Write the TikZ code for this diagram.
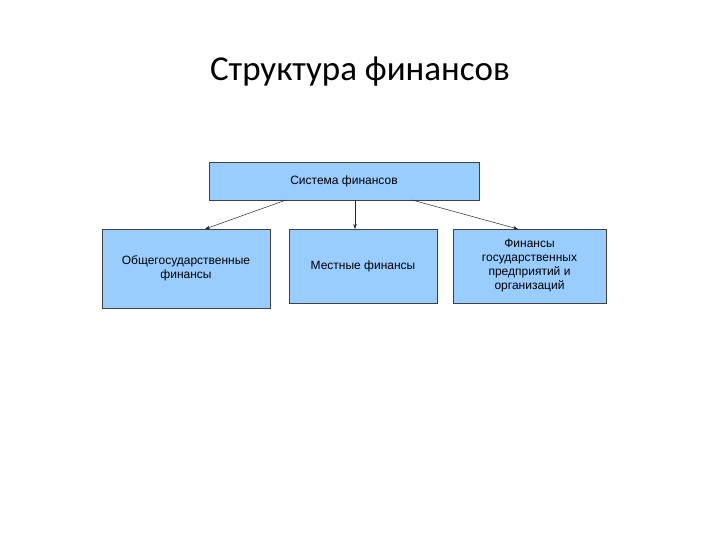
\documentclass[tikz,border=0pt]{standalone}
\usepackage{fontspec}
\usetikzlibrary{arrows.meta}
\setmainfont{Liberation Sans}
\newfontfamily\titlefont{Carlito}
\definecolor{boxblue}{HTML}{99CCFF}
\begin{document}
\begin{tikzpicture}[x=1pt,y=-1pt,
  fbox/.style={draw=black!75,line width=0.6pt,fill=boxblue,inner sep=0pt,align=center,font=\fontsize{12}{14}\selectfont},
  conn/.style={-{Stealth[length=5pt,width=3.5pt]},line width=0.5pt,black!85}]
\useasboundingbox (0,0) rectangle (720,540);
\fill[white] (0,0) rectangle (720,540);
\node[font=\titlefont\fontsize{35}{40}\selectfont] (title) at (360,72) {Структура финансов};
\node[fbox,minimum width=270pt,minimum height=38pt] (top) at (344,181) {Система финансов};
\node[fbox,minimum width=168pt,minimum height=79pt] (l) at (186,268.5) {Общегосударственные\\финансы};
\node[fbox,minimum width=148pt,minimum height=74pt] (m) at (363,266) {Местные финансы};
\node[fbox,minimum width=153pt,minimum height=74pt] (r) at (529.5,266) {Финансы\\государственных\\предприятий и\\организаций};
\coordinate (a1) at (286,200);
\coordinate (a2) at (355,200);
\coordinate (a3) at (412,200);
\coordinate (b1) at (205,229);
\coordinate (b2) at (355,229);
\coordinate (b3) at (518,229);
\draw[conn] (a1) -- (b1);
\draw[conn] (a2) -- (b2);
\draw[conn] (a3) -- (b3);
\end{tikzpicture}
\end{document}
